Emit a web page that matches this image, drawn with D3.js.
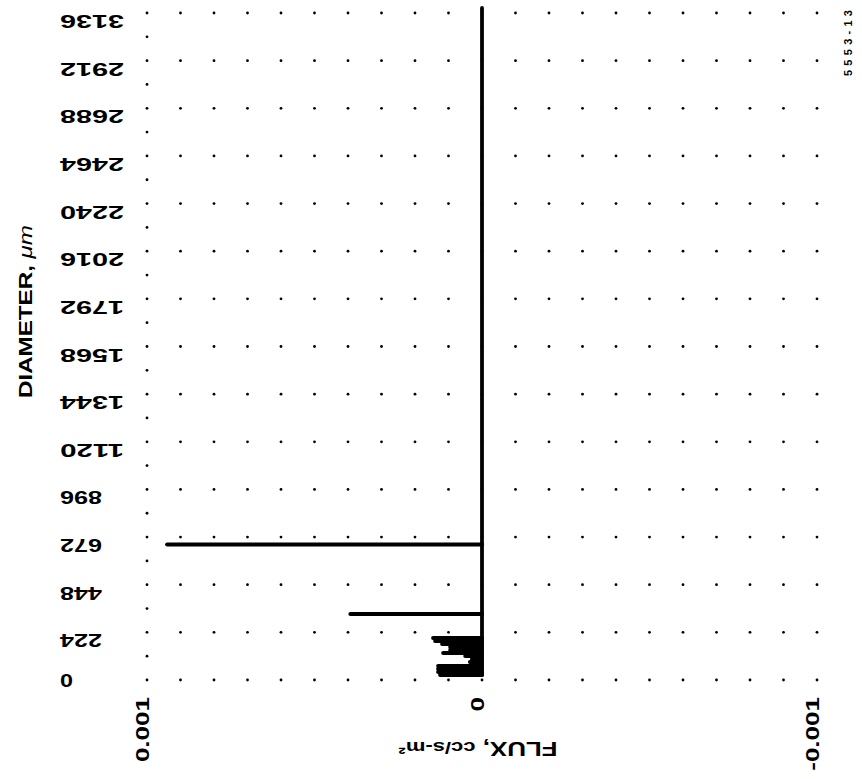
<!DOCTYPE html>
<html>
<head>
<meta charset="utf-8">
<script src="https://cdn.jsdelivr.net/npm/d3@7"></script>
<style>
  body { margin: 0; background: #fff; }
  svg { display: block; }
  text { font-family: "Liberation Sans", Arial, sans-serif; font-weight: bold; fill: #000; }
</style>
</head>
<body>
<svg id="chart" width="862" height="779"></svg>
<script>
// Particle-size bins: diameter (µm) and measured flux (cc/s-m²)
const binDiameters = [24, 38, 52, 66, 85, 99, 113, 127, 141, 155, 169, 183, 197, 310, 637];
const binFlux = [0.000125, 0.000131, 0.000131, 0.000131, 0.000036, 0.000030, 0.000050,
                 0.000116, 0.000095, 0.000095, 0.000119, 0.000140, 0.000146, 0.000393, 0.000940];
// Bins above the last plotted one carry zero flux up to this diameter
const zeroLineTop = 3160;

const diameterTicks = [0, 224, 448, 672, 896, 1120, 1344, 1568, 1792, 2016, 2240, 2464, 2688, 2912, 3136];
const diameterTickLabels = ["0", "224", "448", "672", "896", "1120", "1344", "1568", "1792",
                            "2016", "2240", "2464", "2688", "2912", "3136"];
const fluxTicks = [0.001, 0, -0.001];
const fluxTickLabels = ["0.001", "0", "-0.001"];
const figureId = "5553-13";

const svg = d3.select("#chart");

const x = d3.scaleLinear().domain([0.001, -0.001]).range([147, 817]);
const y = d3.scaleLinear().domain([0, 3136]).range([680, 13]);

// Dotted grid: one dot per major row at every 0.0001 column,
// plus half-step dots along the left edge.
const gridCols = d3.range(-10, 10).map(k => k * 0.0001);
const gridPts = [];
diameterTicks.forEach(d => gridCols.forEach(f => gridPts.push([f, d])));
diameterTicks.forEach(d => gridPts.push([0.001, d]));
d3.range(1, diameterTicks.length).forEach(i =>
  gridPts.push([0.001, (diameterTicks[i - 1] + diameterTicks[i]) / 2]));

svg.append("g").selectAll("circle").data(gridPts).join("circle")
  .attr("cx", d => x(d[0]))
  .attr("cy", d => y(d[1]))
  .attr("r", 1.4)
  .attr("fill", "#000");

// Zero-flux baseline running up the diameter range
svg.append("line")
  .attr("x1", x(0)).attr("x2", x(0))
  .attr("y1", y(binDiameters[0])).attr("y2", y(zeroLineTop))
  .attr("stroke", "#000").attr("stroke-width", 3.8)
  .attr("stroke-linecap", "round");

// Horizontal flux bars, one per bin
const bins = binDiameters.map((d, i) => ({ d, f: binFlux[i] }));
svg.append("g").selectAll("line").data(bins).join("line")
  .attr("x1", x(0))
  .attr("x2", b => x(b.f))
  .attr("y1", b => y(b.d))
  .attr("y2", b => y(b.d))
  .attr("stroke", "#000")
  .attr("stroke-width", 4)
  .attr("stroke-linecap", "round");

// Diameter tick labels (printed upside down)
const yLab = svg.append("g");
diameterTicks.forEach((d, i) => {
  const s = diameterTickLabels[i];
  if (d === 0) {
    yLab.append("text")
      .attr("x", 60).attr("y", y(d) + 7)
      .attr("font-size", 18)
      .attr("textLength", 13).attr("lengthAdjust", "spacingAndGlyphs")
      .text(s);
  } else {
    yLab.append("text")
      .attr("transform", `translate(60,${y(d) + 2}) rotate(180)`)
      .attr("text-anchor", "end")
      .attr("font-size", 18)
      .attr("textLength", s.length >= 4 ? 64 : 42)
      .attr("lengthAdjust", "spacingAndGlyphs")
      .text(s);
  }
});

// Flux tick labels (rotated, reading upward)
const xLab = svg.append("g");
fluxTicks.forEach((f, i) => {
  const t = xLab.append("text")
    .attr("transform", `translate(${x(f) + 2},697) rotate(-90)`)
    .attr("text-anchor", "end")
    .attr("font-size", 19)
    .text(fluxTickLabels[i]);
  const w = t.node().getComputedTextLength();
  t.attr("textLength", w * 1.37).attr("lengthAdjust", "spacingAndGlyphs");
});

// Axis titles
const xt = svg.append("text")
  .attr("transform", "translate(478,742) rotate(180)")
  .attr("text-anchor", "middle")
  .attr("font-size", 20)
  .attr("textLength", 159).attr("lengthAdjust", "spacingAndGlyphs");
xt.append("tspan").text("FLUX, ");
xt.append("tspan").attr("font-size", 17).text("cc/s-m²");

const yt = svg.append("text")
  .attr("transform", "translate(32,398) rotate(-90)")
  .attr("text-anchor", "start")
  .attr("font-size", 19)
  .attr("textLength", 173).attr("lengthAdjust", "spacingAndGlyphs");
yt.append("tspan").text("DIAMETER, ");
yt.append("tspan").attr("font-weight", "normal").attr("font-style", "italic").text("μm");

// Figure number in the margin
svg.append("text")
  .attr("transform", "translate(852,76) rotate(-90)")
  .attr("text-anchor", "start")
  .attr("font-size", 11)
  .attr("font-weight", "normal")
  .attr("textLength", 66).attr("lengthAdjust", "spacing")
  .text(figureId);
</script>
</body>
</html>
